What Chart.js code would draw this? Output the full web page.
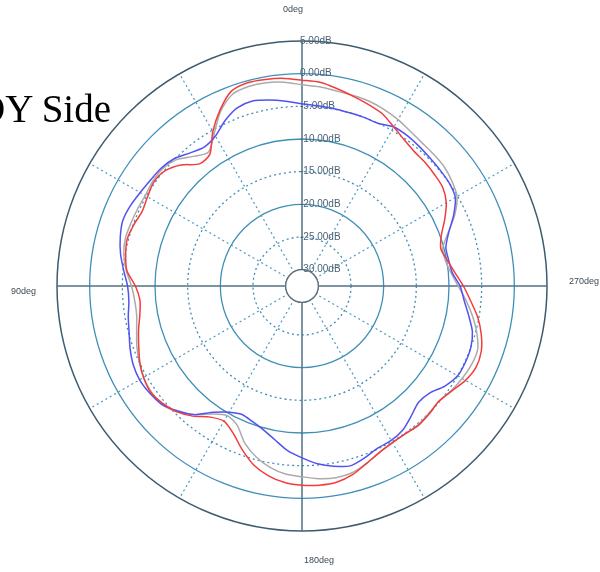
<!DOCTYPE html>
<html>
<head>
<meta charset="utf-8">
<script src="https://cdn.jsdelivr.net/npm/chart.js@4.4.1/dist/chart.umd.min.js"></script>
<style>
  body { margin: 0; background: #fff; }
  #wrap { position: relative; width: 600px; height: 572px; overflow: hidden; }
  #side { position: absolute; left: -23px; top: 89px; font: 39px "Liberation Serif", "Times New Roman", serif; color: #000; line-height: 1; white-space: nowrap; }
</style>
</head>
<body>
<div id="wrap">
  <canvas id="chart" width="600" height="572"></canvas>
  <div id="side">DY Side</div>
</div>
<script>
// angles as printed on the plot (counter-clockwise, 0deg at top)
const angles = [0, 5, 10, 15, 20, 25, 30, 35, 40, 45, 50, 55, 60, 65, 70, 75, 80, 85,
  90, 95, 100, 105, 110, 115, 120, 125, 130, 135, 140, 145, 150, 155, 160, 165, 170, 175,
  180, 185, 190, 195, 200, 205, 210, 215, 220, 225, 230, 235, 240, 245, 250, 255, 260, 265,
  270, 275, 280, 285, 290, 295, 300, 305, 310, 315, 320, 325, 330, 335, 340, 345, 350, 355];

// gain in dB, one value per angle above
const redDb = [-1.0, -0.6, -0.4, -0.3, -0.8, -2.8, -5.2, -7.9, -8.1, -6.3, -5.1, -4.8, -5.2, -5.5, -5.1, -4.8, -5.1, -5.6,
  -7.0, -7.6, -7.3, -6.6, -5.9, -5.1, -4.5, -4.2, -4.6, -5.3, -6.5, -8.0, -8.6, -7.6, -5.8, -4.1, -3.0, -2.3,
  -2.0, -1.9, -2.0, -2.6, -3.6, -4.4, -4.8, -4.9, -4.7, -4.9, -5.1, -4.5, -3.6, -3.1, -3.3, -4.1, -5.2, -6.6,
  -7.8, -9.0, -9.9, -10.5, -9.8, -8.4, -7.0, -6.2, -6.0, -5.8, -5.7, -5.2, -4.4, -3.4, -2.9, -2.4, -1.8, -1.2];

const grayDb = [-1.7, -1.2, -0.9, -0.9, -1.3, -3.0, -5.6, -7.5, -6.6, -5.2, -4.6, -4.6, -4.8, -4.7, -4.6, -4.5, -4.8, -5.5,
  -6.4, -6.8, -6.8, -6.3, -5.6, -5.0, -4.5, -4.3, -4.4, -5.3, -6.8, -8.6, -9.6, -9.0, -6.9, -5.4, -4.3, -3.6,
  -3.3, -2.9, -2.7, -2.9, -3.6, -4.4, -4.8, -4.9, -4.8, -5.0, -5.1, -4.6, -4.2, -3.9, -3.9, -4.8, -6.0, -7.3,
  -8.6, -9.6, -10.2, -10.2, -8.7, -6.7, -5.1, -4.5, -4.1, -4.0, -3.9, -3.6, -3.1, -2.7, -2.4, -2.3, -2.2, -1.9];

const blueDb = [-4.6, -4.1, -3.6, -3.2, -3.5, -4.6, -6.0, -6.5, -5.9, -4.9, -4.4, -4.2, -3.9, -3.5, -3.3, -3.7, -4.3, -5.1,
  -5.8, -5.9, -5.5, -5.1, -4.5, -4.0, -3.8, -4.0, -4.4, -5.5, -6.8, -8.9, -10.2, -10.8, -10.4, -9.7, -8.6, -7.2,
  -6.2, -5.2, -4.5, -4.0, -4.5, -5.1, -5.2, -5.6, -6.5, -7.3, -7.0, -5.8, -5.0, -4.9, -5.0, -5.5, -6.6, -7.6,
  -8.3, -9.4, -9.7, -9.7, -8.6, -6.9, -5.4, -5.0, -4.9, -4.8, -4.6, -4.4, -4.4, -5.0, -5.0, -5.0, -4.9, -4.8];

const ringValues = [-30, -25, -20, -15, -10, -5, 0, 5];
const dottedRings = [-25, -15, -5];
const angleLabels = [
  { deg: 0, text: '0deg', align: 'right', gap: 31, dx: 1, dy: 0 },
  { deg: 90, text: '90deg', align: 'right', gap: 21, dx: 0, dy: 6 },
  { deg: 180, text: '180deg', align: 'left', gap: 30, dx: 2, dy: 0 },
  { deg: 270, text: '270deg', align: 'left', gap: 22, dx: 0, dy: -4 }
];

// Chart.js goes clockwise, the plot goes counter-clockwise
const n = angles.length;
const cw = arr => arr.map((v, j) => arr[(n - j) % n]);
const labelsCw = cw(angles);

const overlay = {
  id: 'overlay',
  beforeDatasetsDraw(chart) {
    const s = chart.scales.r;
    const ctx = chart.ctx;
    const r0 = s.getDistanceFromCenterForValue(ringValues[0]);
    ctx.save();
    ctx.beginPath();
    ctx.arc(s.xCenter, s.yCenter, r0, 0, Math.PI * 2);
    ctx.fillStyle = '#fff';
    ctx.fill();
    ctx.strokeStyle = '#5d6f7c';
    ctx.lineWidth = 1.3;
    ctx.stroke();

    // dB labels, left aligned on the vertical axis
    ctx.font = '10px "Liberation Sans Narrow", "Liberation Sans", Arial, sans-serif';
    ctx.fillStyle = '#4a6374';
    ctx.textAlign = 'left';
    ctx.textBaseline = 'middle';
    s.ticks.forEach(t => {
      const r = s.getDistanceFromCenterForValue(t.value);
      ctx.fillText(t.label, s.xCenter - 2, s.yCenter - r);
    });

    // angle labels
    ctx.font = '9px "Liberation Sans", Arial, sans-serif';
    ctx.fillStyle = '#3c4a55';
    angleLabels.forEach(a => {
      const idx = labelsCw.indexOf(a.deg);
      const p = s.getPointPosition(idx, s.drawingArea + a.gap);
      ctx.textAlign = a.align;
      ctx.fillText(a.text, p.x + a.dx, p.y + a.dy);
    });
    ctx.restore();
  }
};

const line = (label, values, color, order) => ({
  label,
  data: cw(values),
  borderColor: color,
  borderWidth: 1.5,
  pointRadius: 0,
  fill: false,
  tension: 0.25,
  order
});

new Chart(document.getElementById('chart'), {
  type: 'radar',
  data: {
    labels: labelsCw,
    datasets: [
      line('red', redDb, '#f23c3c', 1),
      line('blue', blueDb, '#5252f0', 2),
      line('gray', grayDb, '#ababab', 3)
    ]
  },
  options: {
    responsive: false,
    animation: false,
    layout: { padding: { left: 57, right: 53, top: 41, bottom: 41 } },
    plugins: { legend: { display: false }, tooltip: { enabled: false } },
    scales: {
      r: {
        min: -32.5,
        max: 5,
        afterBuildTicks: scale => { scale.ticks = ringValues.map(v => ({ value: v })); },
        ticks: { display: false, callback: v => v.toFixed(2) + 'dB' },
        pointLabels: { display: false },
        grid: {
          circular: true,
          color: c => c.tick.value === 5 ? '#3e5b6e' : (c.tick.value === -30 ? '#5d6f7c' : '#3f8fb9'),
          lineWidth: c => c.tick.value === 5 ? 1.5 : 1.3
        },
        border: { dash: c => dottedRings.includes(c.tick.value) ? [2, 3] : [] },
        angleLines: {
          color: c => labelsCw[c.index] % 90 === 0 ? '#4f7284' : (labelsCw[c.index] % 30 === 0 ? '#4a98c0' : 'rgba(0,0,0,0)'),
          lineWidth: c => labelsCw[c.index] % 30 === 0 ? (labelsCw[c.index] % 90 === 0 ? 1.5 : 1.2) : 0,
          borderDash: c => labelsCw[c.index] % 90 === 0 ? [] : [2, 3]
        }
      }
    }
  },
  plugins: [overlay]
});
</script>
</body>
</html>
